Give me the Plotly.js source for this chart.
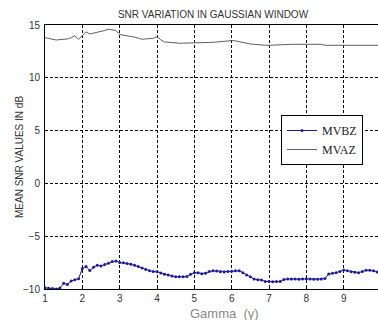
<!DOCTYPE html>
<html>
<head>
<meta charset="utf-8">
<script src="https://cdn.plot.ly/plotly-3.0.1.min.js"></script>
<style>
html,body{margin:0;padding:0;overflow:hidden;background:#fff;width:378px;height:320px;}
#chart{width:381px;height:320px;}
</style>
</head>
<body>
<div id="chart"></div>
<script>
const gamma = [1.0,1.1,1.2,1.3,1.4,1.5,1.6,1.7,1.8,1.9,2.0,2.1,2.2,2.3,2.4,2.5,2.6,2.7,2.8,2.9,3.0,3.1,3.2,3.3,3.4,3.5,3.6,3.7,3.8,3.9,4.0,4.1,4.2,4.3,4.4,4.5,4.6,4.7,4.8,4.9,5.0,5.1,5.2,5.3,5.4,5.5,5.6,5.7,5.8,5.9,6.0,6.1,6.2,6.3,6.4,6.5,6.6,6.7,6.8,6.9,7.0,7.1,7.2,7.3,7.4,7.5,7.6,7.7,7.8,7.9,8.0,8.1,8.2,8.3,8.4,8.5,8.6,8.7,8.8,8.9,9.0,9.1,9.2,9.3,9.4,9.5,9.6,9.7,9.8,9.9,10.0];
const mvbz = [-9.88,-9.92,-9.95,-10.0,-9.9,-9.46,-9.57,-9.24,-9.12,-9.02,-8.05,-7.88,-8.25,-7.95,-7.75,-7.82,-7.68,-7.56,-7.40,-7.34,-7.50,-7.52,-7.58,-7.66,-7.75,-7.88,-8.02,-8.15,-8.27,-8.35,-8.36,-8.48,-8.60,-8.68,-8.78,-8.83,-8.85,-8.84,-8.82,-8.60,-8.46,-8.45,-8.55,-8.50,-8.35,-8.28,-8.30,-8.36,-8.38,-8.34,-8.33,-8.27,-8.27,-8.45,-8.67,-8.85,-9.05,-9.12,-9.15,-9.28,-9.30,-9.32,-9.30,-9.28,-9.10,-9.05,-9.05,-9.05,-9.07,-9.05,-9.03,-9.06,-9.08,-9.08,-9.05,-9.00,-8.58,-8.52,-8.45,-8.35,-8.20,-8.28,-8.36,-8.42,-8.45,-8.35,-8.22,-8.22,-8.28,-8.40,-8.50];
const mvaz = [13.80,13.72,13.65,13.58,13.62,13.65,13.68,13.80,13.98,13.65,14.05,14.35,14.15,14.22,14.32,14.40,14.48,14.60,14.52,14.48,14.10,14.05,14.00,13.96,13.85,13.75,13.65,13.68,13.72,13.74,13.90,13.60,13.40,13.35,13.30,13.27,13.27,13.28,13.30,13.32,13.33,13.33,13.34,13.34,13.35,13.36,13.40,13.45,13.50,13.52,13.52,13.50,13.42,13.30,13.25,13.20,13.17,13.12,13.08,13.08,13.08,13.10,13.12,13.17,13.17,13.17,13.17,13.17,13.17,13.17,13.17,13.17,13.17,13.17,13.17,13.08,13.08,13.08,13.08,13.08,13.08,13.08,13.08,13.08,13.08,13.08,13.08,13.08,13.08,13.08,13.08];
const xTicks = [1,2,3,4,5,6,7,8,9,10];
const yTicks = [-10,-5,0,5,10,15];

const traces = [
  {x: gamma, y: mvbz, name: 'MVBZ', type: 'scatter', mode: 'lines+markers',
   line: {color: '#1c1c9c', width: 1}, marker: {color: '#1c1c9c', size: 3}},
  {x: gamma, y: mvaz, name: 'MVAZ', type: 'scatter', mode: 'lines',
   line: {color: '#606060', width: 1}}
];

const axisCommon = {
  showline: true, mirror: true, linecolor: '#000', linewidth: 1,
  showgrid: true, gridcolor: '#000', gridwidth: 1, griddash: '3px,2px',
  zeroline: false, ticks: 'inside', ticklen: 3, tickcolor: '#000',
  tickfont: {family: 'Liberation Sans, Arial, sans-serif', size: 10, color: '#333'}
};

const layout = {
  width: 381, height: 320,
  margin: {l: 45, r: 0, t: 25, b: 31},
  paper_bgcolor: '#fff', plot_bgcolor: '#fff',
  title: {text: 'SNR VARIATION IN GAUSSIAN WINDOW', x: 0.5, xref: 'paper',
    y: 1 - 14/320, yref: 'container', yanchor: 'middle',
    font: {family: 'Liberation Sans, Arial, sans-serif', size: 10, color: '#333'}},
  xaxis: Object.assign({}, axisCommon, {range: [1, 10], tickvals: xTicks}),
  yaxis: Object.assign({}, axisCommon, {range: [-10, 15], tickvals: yTicks,
    ticklabelstandoff: 2}),
  showlegend: true,
  legend: {x: (281-45)/336, y: 1 - (115-25)/264, xanchor: 'left', yanchor: 'top',
    bgcolor: '#fff', bordercolor: '#000', borderwidth: 1,
    font: {family: 'Liberation Serif, Times New Roman, serif', size: 12, color: '#222'},
    tracegroupgap: 0, itemwidth: 30},
  annotations: [
    {text: 'Gamma  (γ)', xref: 'paper', yref: 'paper', x: (224-45)/336, y: -(313-289)/264,
     xanchor: 'center', yanchor: 'middle', showarrow: false,
     font: {family: 'Liberation Sans, Arial, sans-serif', size: 13, color: '#888'}},
    {text: 'MEAN SNR VALUES IN dB', xref: 'paper', yref: 'paper', x: -(45-19)/336, y: 0.5,
     xanchor: 'center', yanchor: 'middle', textangle: -90, showarrow: false,
     font: {family: 'Liberation Sans, Arial, sans-serif', size: 10, color: '#333'}}
  ]
};

Plotly.newPlot('chart', traces, layout, {displayModeBar: false, staticPlot: true});
</script>
</body>
</html>
